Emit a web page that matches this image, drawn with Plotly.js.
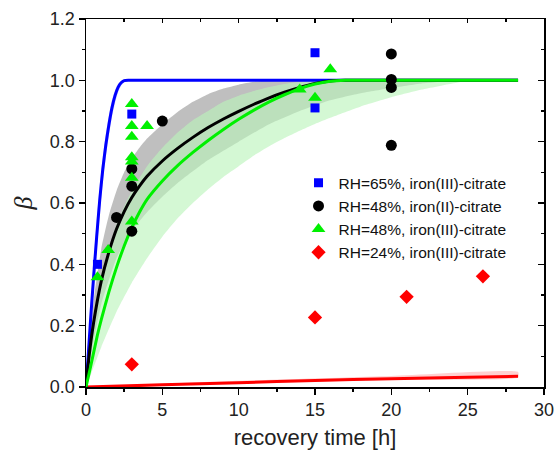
<!DOCTYPE html>
<html>
<head>
<meta charset="utf-8">
<script src="https://cdn.plot.ly/plotly-3.0.1.min.js"></script>
<style>html,body{margin:0;padding:0;background:#fff;}#chart{width:556px;height:455px;}</style>
</head>
<body>
<div id="chart"></div>
<script>
// ---- measured points ----
var blueX = [0.75, 3, 15, 15];
var blueY = [0.40, 0.89, 1.09, 0.91];

var blackX = [2, 3, 3, 3, 5, 20, 20, 20, 20];
var blackY = [0.553, 0.711, 0.655, 0.508, 0.867, 1.086, 1.003, 0.977, 0.788];

var greenX = [0.75, 1.45, 3, 3, 3, 3, 3, 3, 3, 4, 14, 15, 16];
var greenY = [0.358, 0.447, 0.923, 0.851, 0.816, 0.749, 0.735, 0.682, 0.540, 0.851, 0.970, 0.943, 1.036];

var redX = [3, 15, 21, 26];
var redY = [0.074, 0.227, 0.294, 0.361];

// ---- fitted curves and confidence bands ----
var blueFitX = [0, 0.1, 0.3, 0.5, 0.7, 0.9, 1.1, 1.3, 1.5, 1.7, 1.9, 2.1, 2.3, 2.5, 2.8, 3.2, 5, 10, 28.3];
var blueFitY = [0, 0.07, 0.22, 0.36, 0.49, 0.61, 0.71, 0.79, 0.855, 0.91, 0.95, 0.977, 0.992, 0.999, 1, 1, 1, 1, 1];
var blueBandUpX = [0, 0.1, 0.3, 0.5, 0.7, 0.9, 1.1, 1.3, 1.5, 1.7, 1.9, 2.1, 2.3, 2.6, 3.2, 5, 28.3];
var blueBandUpY = [0, 0.09, 0.26, 0.41, 0.54, 0.655, 0.75, 0.825, 0.885, 0.935, 0.968, 0.988, 0.997, 1, 1, 1, 1];
var blueBandLoX = [0, 0.1, 0.3, 0.5, 0.7, 0.9, 1.1, 1.3, 1.5, 1.7, 1.9, 2.1, 2.3, 2.5, 2.8, 3.2, 5, 28.3];
var blueBandLoY = [0, 0.055, 0.185, 0.315, 0.44, 0.56, 0.665, 0.75, 0.82, 0.88, 0.925, 0.96, 0.982, 0.994, 0.999, 1, 1, 1];

var blackFitX = [0, 0.2, 0.5, 1, 1.5, 2, 2.5, 3, 3.5, 4, 5, 6, 7, 8, 9, 10, 11, 12, 13, 14, 15, 16, 17, 18, 20, 28.3];
var blackFitY = [0, 0.1, 0.21, 0.345, 0.44, 0.515, 0.572, 0.618, 0.655, 0.687, 0.737, 0.778, 0.814, 0.846, 0.874, 0.899, 0.922, 0.943, 0.961, 0.977, 0.99, 0.998, 1, 1, 1, 1];
var greyBandUpX = [0, 0.5, 1, 1.5, 2, 2.5, 3, 3.5, 4, 5, 6, 7, 8, 9, 10, 11, 12, 13, 15, 28.3];
var greyBandUpY = [0, 0.28, 0.45, 0.56, 0.64, 0.70, 0.745, 0.78, 0.81, 0.857, 0.897, 0.93, 0.955, 0.973, 0.986, 0.995, 1, 1, 1, 1];
var greyBandLoX = [0, 0.5, 1, 2, 3, 4, 5, 6, 8, 10, 12, 14, 16, 18, 20, 22, 24, 25, 26, 28.3];
var greyBandLoY = [0, 0.15, 0.27, 0.42, 0.51, 0.57, 0.62, 0.665, 0.74, 0.80, 0.857, 0.90, 0.935, 0.958, 0.975, 0.99, 0.998, 1, 1, 1];

var greenFitX = [0, 0.3, 0.75, 1, 1.5, 2, 2.5, 3, 3.5, 4, 5, 6, 7, 8, 9, 10, 11, 12, 13, 14, 15, 16, 17, 18, 20, 28.3];
var greenFitY = [0, 0.066, 0.17, 0.22, 0.31, 0.39, 0.46, 0.52, 0.57, 0.612, 0.672, 0.722, 0.765, 0.804, 0.84, 0.873, 0.903, 0.93, 0.953, 0.973, 0.988, 0.997, 1, 1, 1, 1];
var greenBandUpX = [0, 0.5, 1, 2, 3, 4, 5, 6, 7, 8, 9, 10, 11, 12, 13, 14, 15, 16, 18, 28.3];
var greenBandUpY = [0, 0.22, 0.36, 0.53, 0.64, 0.72, 0.78, 0.83, 0.87, 0.90, 0.93, 0.95, 0.965, 0.978, 0.988, 0.995, 0.999, 1, 1, 1];
var greenBandLoX = [0, 0.5, 1, 2, 3, 4, 5, 6, 7, 8, 9, 10, 11, 12, 13, 14, 15, 16, 18, 20, 22, 24, 25, 26, 28.3];
var greenBandLoY = [0, 0.065, 0.13, 0.245, 0.34, 0.42, 0.49, 0.55, 0.60, 0.645, 0.685, 0.72, 0.755, 0.785, 0.812, 0.836, 0.858, 0.878, 0.915, 0.945, 0.97, 0.99, 0.998, 1, 1];

var redFitX = [0, 5, 10, 15, 20, 25, 28.3];
var redFitY = [0, 0.007, 0.014, 0.021, 0.027, 0.032, 0.035];
var redBandUpX = [0, 10, 20, 28.3];
var redBandUpY = [0, 0.02, 0.036, 0.049];
var redBandLoX = [0, 10, 20, 28.3];
var redBandLoY = [0, 0.012, 0.024, 0.031];

var legendNames = ['RH=65%, iron(III)-citrate', 'RH=48%, iron(II)-citrate', 'RH=48%, iron(III)-citrate', 'RH=24%, iron(III)-citrate'];
var xTicks = [0, 5, 10, 15, 20, 25, 30];
var yTicks = [0, 0.2, 0.4, 0.6, 0.8, 1.0, 1.2];

function band(upX, upY, loX, loY, color) {
  return {
    x: upX.concat(loX.slice().reverse()),
    y: upY.concat(loY.slice().reverse()),
    type: 'scatter', mode: 'lines', fill: 'toself', fillcolor: color,
    line: {width: 0, shape: 'spline', smoothing: 0.5}, showlegend: false, hoverinfo: 'skip'
  };
}
function fit(x, y, color) {
  return {x: x, y: y, type: 'scatter', mode: 'lines',
    line: {color: color, width: 3, shape: 'spline', smoothing: 0.5}, showlegend: false, hoverinfo: 'skip'};
}
function pts(x, y, name, color, symbol, size) {
  return {x: x, y: y, type: 'scatter', mode: 'markers', name: name,
    marker: {color: color, symbol: symbol, size: size, line: {width: 0}}};
}

var data = [
  band(greyBandUpX, greyBandUpY, greyBandLoX, greyBandLoY, 'rgba(128,128,128,0.5)'),
  band(greenBandUpX, greenBandUpY, greenBandLoX, greenBandLoY, 'rgba(187,244,187,0.63)'),
  band(blueBandUpX, blueBandUpY, blueBandLoX, blueBandLoY, 'rgba(120,120,255,0.35)'),
  band(redBandUpX, redBandUpY, redBandLoX, redBandLoY, 'rgba(255,120,120,0.35)'),
  fit(redFitX, redFitY, '#ff0000'),
  fit(blueFitX, blueFitY, '#0000ff'),
  fit(blackFitX, blackFitY, '#000000'),
  fit(greenFitX, greenFitY, '#00f000'),
  pts(blueX, blueY, legendNames[0], '#0000ff', 'square', 9),
  pts(blackX, blackY, legendNames[1], '#000000', 'circle', 11),
  pts(greenX, greenY, legendNames[2], '#00f000', 'triangle-up', 12),
  pts(redX, redY, legendNames[3], '#ff0000', 'diamond', 11),
  {x: [null], y: [null], xaxis: 'x2', yaxis: 'y2', type: 'scatter', mode: 'markers', showlegend: false, hoverinfo: 'skip'}
];

var tickFont = {family: 'Liberation Sans, Arial, sans-serif', size: 18, color: '#222'};
var layout = {
  width: 556, height: 455,
  margin: {l: 86, r: 12, t: 19, b: 68},
  paper_bgcolor: '#fff', plot_bgcolor: '#fff',
  showlegend: true,
  legend: {x: 0.464, y: 0.6, xanchor: 'left', yanchor: 'top', bgcolor: 'rgba(0,0,0,0)',
    font: {family: 'Liberation Sans, Arial, sans-serif', size: 15.5, color: '#111'}, tracegroupgap: 0, itemwidth: 30},
  xaxis: {
    range: [0, 30], tickvals: xTicks, ticktext: xTicks.map(String),
    ticks: 'outside', ticklen: 6, tickwidth: 1.5, tickcolor: '#000',
    minor: {dtick: 2.5, tick0: 0, ticks: 'outside', ticklen: 3, tickwidth: 1.5, tickcolor: '#000'},
    showline: true, linecolor: '#000', linewidth: 1.5, showgrid: false, zeroline: false,
    tickfont: tickFont,
    title: {text: 'recovery time [h]', font: {family: 'Liberation Sans, Arial, sans-serif', size: 22, color: '#222'}, standoff: 10}
  },
  yaxis: {
    range: [0, 1.2], tickvals: yTicks, ticktext: yTicks.map(function (v) { return v.toFixed(1); }),
    ticks: 'outside', ticklen: 6, tickwidth: 1.5, tickcolor: '#000',
    minor: {dtick: 0.1, tick0: 0, ticks: 'outside', ticklen: 3, tickwidth: 1.5, tickcolor: '#000'},
    showline: true, linecolor: '#000', linewidth: 1.5, showgrid: false, zeroline: false,
    tickfont: tickFont,
    title: {text: '<i>β</i>', font: {family: 'Liberation Serif, Times New Roman, serif', size: 26, color: '#222'}, standoff: 10}
  },
  xaxis2: {
    overlaying: 'x', side: 'top', range: [0, 30], tickvals: xTicks, showticklabels: false,
    ticks: 'inside', ticklen: 4, tickwidth: 1.5, tickcolor: '#000',
    minor: {dtick: 2.5, tick0: 0, ticks: 'inside', ticklen: 3, tickwidth: 1.5, tickcolor: '#000'},
    showline: true, linecolor: '#000', linewidth: 1.5, showgrid: false, zeroline: false
  },
  yaxis2: {
    overlaying: 'y', side: 'right', range: [0, 1.2], tickvals: yTicks, showticklabels: false,
    ticks: 'inside', ticklen: 6, tickwidth: 1.5, tickcolor: '#000',
    minor: {dtick: 0.1, tick0: 0, ticks: 'inside', ticklen: 3, tickwidth: 1.5, tickcolor: '#000'},
    showline: true, linecolor: '#000', linewidth: 1.5, showgrid: false, zeroline: false
  }
};

Plotly.newPlot('chart', data, layout, {displayModeBar: false, staticPlot: true});
</script>
</body>
</html>
